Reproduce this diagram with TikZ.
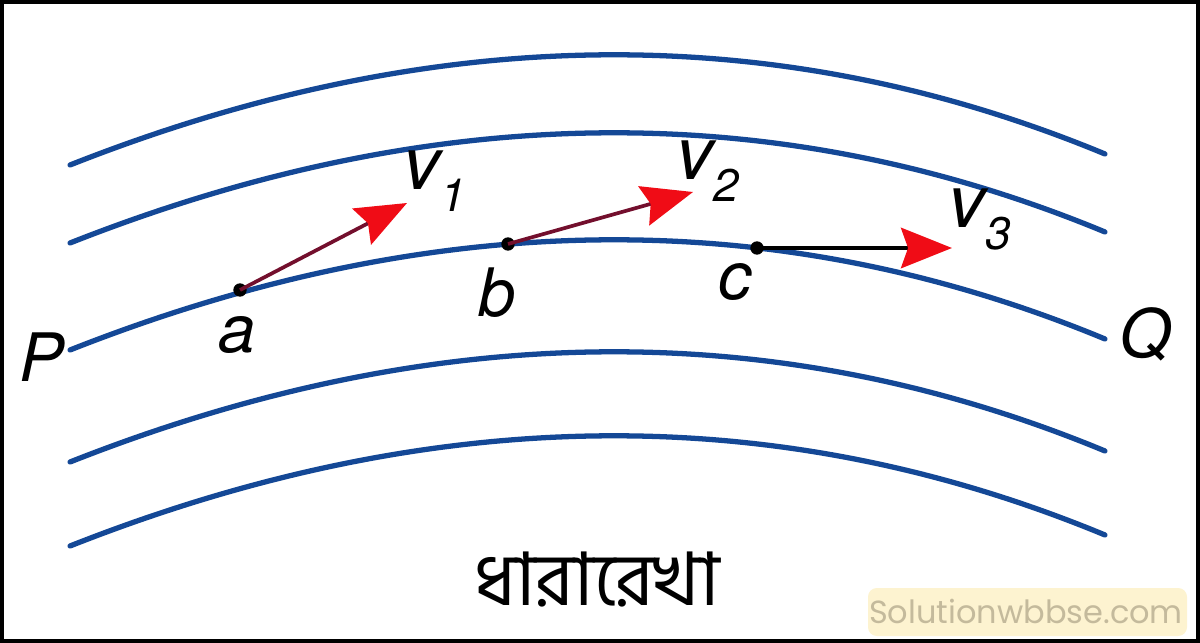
\documentclass[tikz,border=0pt]{standalone}
\usepackage{fontspec}
\setsansfont{TeX Gyre Heros}
\newfontfamily\bengalifont[Script=Bengali]{Hind Siliguri}
\newfontfamily\markfont{Poppins}
\usetikzlibrary{arrows.meta}

\definecolor{linecol}{RGB}{20,72,150}
\definecolor{shaftcol}{RGB}{115,15,45}
\definecolor{tipcol}{RGB}{240,12,22}
\definecolor{markbg}{RGB}{253,243,208}
\definecolor{marktext}{RGB}{196,186,156}

\newcommand{\vsub}[1]{v\raisebox{-6pt}{\fontsize{13}{15}\selectfont #1}}

\begin{document}
\begin{tikzpicture}[x=0.01cm, y=-0.01cm,
	streamline/.style={draw=linecol, line width=1.5pt, line cap=round},
	point/.style={circle, fill=black, inner sep=0pt, minimum size=3.8pt},
	velocity/.style={line width=1.05pt,
		-{Stealth[length=14.5pt, width=11.5pt, inset=2pt, color=tipcol, fill=tipcol]}},
	letter/.style={font=\sffamily\itshape\fontsize{19}{22}\selectfont, inner sep=0pt},
	vlabel/.style={font=\sffamily\itshape\fontsize{21}{24}\selectfont, inner sep=0pt, anchor=base west}]

	\useasboundingbox (0,0) rectangle (1200,643);
	\draw[line width=1.2pt] (2,2) rectangle (1198,641);

	% streamlines
	\foreach \y in {165, 243, 350, 462, 546}
		\draw[streamline] (70,\y) .. controls (432,\y-143) and (777,\y-147) .. (1105,\y-11);

	\node[point] (pointa) at (240,290) {};
	\node[point] (pointb) at (508,244) {};
	\node[point] (pointc) at (757,248) {};

	\coordinate (tipa) at (407,203);
	\coordinate (tipb) at (693,192);
	\coordinate (tipc) at (952,248);

	\draw[velocity, draw=shaftcol] (pointa.center) -- (tipa);
	\draw[velocity, draw=shaftcol] (pointb.center) -- (tipb);
	\draw[velocity, draw=black] (pointc.center) -- (tipc);

	\node[letter] (labelP) at (42,357) {P};
	\node[letter] (labelQ) at (1145,334) {Q};
	\node[letter] (labela) at (237,335) {a};
	\node[letter] (labelb) at (497,293) {b};
	\node[letter] (labelc) at (735,282) {c};

	\node[vlabel] (labelvone)   at (403,190) {\vsub{1}};
	\node[vlabel] (labelvtwo)   at (676,180) {\vsub{2}};
	\node[vlabel] (labelvthree) at (948,228) {\vsub{3}};

	\node[font=\bengalifont\fontsize{21}{25}\selectfont] (caption) at (597,580) {ধারারেখা};

	\fill[markbg, rounded corners=2.5pt] (868,588) rectangle (1187,636);
	\node[font=\markfont\fontsize{9.1}{11}\selectfont, text=marktext] (mark) at (1026,611) {Solutionwbbse.com};
\end{tikzpicture}
\end{document}
